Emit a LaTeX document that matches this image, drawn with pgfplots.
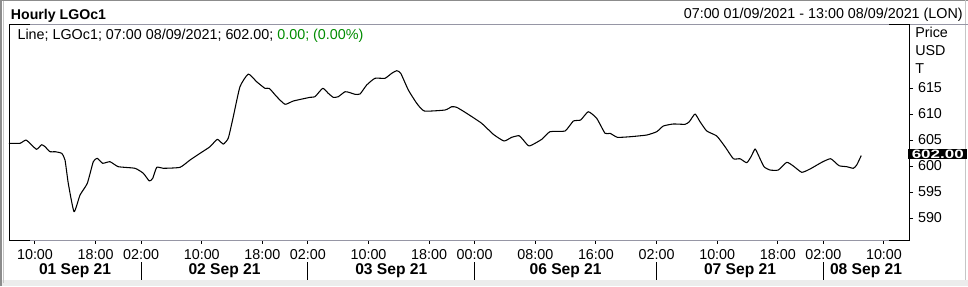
\documentclass[border=0pt]{standalone}
\usepackage{pgfplots}
\pgfplotsset{compat=1.18}
\usepackage{fontspec}
\setmainfont{Liberation Sans}
\definecolor{framegray}{RGB}{150,150,165}
\definecolor{bordergray}{RGB}{140,140,140}
\definecolor{bandgray}{RGB}{236,236,236}
\definecolor{chggreen}{RGB}{0,140,0}
\begin{document}
\fontsize{10.75}{12}\selectfont
\begin{tikzpicture}[x=0.75pt,y=0.75pt]
\useasboundingbox (0,0) rectangle (968,286);
% outer window decoration
\fill[bandgray] (0,0) rectangle (968,6.5);
\draw[bordergray, line width=1.2pt] (0.8,0) -- (0.8,286);
\draw[bordergray!50, line width=0.75pt] (3,3) -- (3,286);
\draw[bordergray, line width=0.9pt] (0,285.2) -- (968,285.2);
\draw[bordergray!50, line width=0.75pt] (965.5,6.5) -- (965.5,286);
\begin{axis}[
  at={(6.75pt,34.5pt)}, anchor=south west,
  width=675pt, height=161.25pt, scale only axis,
  xmin=-0.43, xmax=118.3, ymin=585.77, ymax=627.12,
  axis line style={draw=none},
  xtick={3,11,17,25,33,39,47,55,61,69,77,85,93,101,107,115},
  xticklabels={10:00,18:00,02:00,10:00,18:00,02:00,10:00,18:00,00:00,08:00,16:00,02:00,10:00,18:00,02:00,10:00},
  ytick={590,595,600,605,610,615},
  xtick pos=bottom, ytick pos=right, yticklabel pos=right,
  tick align=outside,
  major tick length=3pt,
  tick style={black, line width=0.75pt},
  ticklabel style={font=\fontsize{10.75}{12}\selectfont},
  /pgf/number format/assume math mode=true,
  clip=false,
]
\addplot[black, line width=0.8pt, line join=round, smooth, tension=0.3] coordinates {
(-0.43,604.37) (1.02,604.37) (1.81,605.00) (2.56,604.04) (3.22,603.21) (3.88,604.10) (4.32,603.71) (4.98,602.75) (5.64,602.75) (6.52,602.44) (6.96,601.15) (7.39,596.67) (8.15,591.21) (8.94,594.42) (9.90,596.67) (10.69,600.83) (11.22,601.48) (11.93,600.52) (12.89,600.83) (13.99,599.87) (16.19,599.56) (17.29,598.60) (18.08,597.12) (18.53,597.63) (19.06,599.75) (19.93,599.56) (22.13,599.75) (23.45,601.15) (24.77,602.44) (26.09,603.71) (27.05,605.13) (27.84,604.22) (28.50,605.37) (29.16,609.48) (30.04,615.25) (31.14,617.69) (32.24,616.21) (33.34,614.94) (33.91,614.94) (34.89,613.33) (35.98,611.87) (37.08,612.50) (39.28,613.21) (39.94,613.33) (40.96,614.94) (41.69,613.98) (42.35,613.21) (43.01,613.33) (43.90,614.29) (44.56,614.10) (45.22,613.79) (45.88,613.85) (46.76,615.58) (47.85,616.87) (49.17,616.87) (50.06,617.83) (50.72,618.33) (51.25,617.83) (52.25,614.62) (53.36,612.06) (54.36,610.58) (57.09,610.77) (57.97,611.40) (58.63,611.29) (59.95,610.13) (61.93,608.21) (63.46,606.10) (64.87,604.81) (65.89,605.52) (66.85,605.83) (67.42,605.00) (68.21,603.85) (69.85,605.13) (70.94,606.60) (72.92,606.73) (74.02,608.65) (74.99,608.85) (75.99,610.44) (77.10,609.17) (78.20,606.29) (78.86,606.29) (79.83,605.52) (81.50,605.63) (83.70,605.96) (85.02,606.60) (85.89,607.69) (87.21,608.08) (88.75,608.02) (89.32,608.52) (90.07,610.00) (90.73,608.52) (91.62,606.73) (92.94,605.77) (94.03,603.71) (95.13,601.40) (96.01,601.40) (96.89,600.63) (97.46,601.79) (97.99,603.27) (98.42,602.12) (99.17,599.87) (99.97,599.23) (101.06,599.23) (102.17,600.71) (103.04,600.00) (104.15,598.79) (105.24,599.42) (106.79,600.71) (107.97,601.40) (109.07,600.06) (110.08,599.87) (110.95,599.56) (111.40,600.19) (112.00,602.00)
};
\node[fill=black, text=white, anchor=west, inner sep=0pt, minimum height=7.9pt, minimum width=44.25pt, xshift=-0.75pt] at (axis cs:118.3,602.27) {\resizebox{39pt}{6.4pt}{\bfseries 602.00}};
\end{axis}
% plot frame
\draw[framegray, line width=0.75pt] (9,261) -- (968,261);
\draw[framegray, line width=0.75pt] (9,46) -- (909,46);
\draw[black, line width=0.75pt] (30,261) -- (9,261) -- (9,46) -- (30,46);
\draw[black, line width=0.75pt] (889,261) -- (909,261) -- (909,46) -- (889,46);
% day separators and labels
\foreach \xx in {141.1,307.9,474.6,656.6,823.3} \draw[black, line width=0.75pt] (\xx,24) -- (\xx,6);
\foreach \xx/\lab in {75/01 Sep 21,224.5/02 Sep 21,391.3/03 Sep 21,565.6/06 Sep 21,740/07 Sep 21,866/08 Sep 21}
  \node[anchor=base, inner sep=0pt, font=\bfseries\fontsize{11.7}{13}\selectfont] at (\xx,12) {\lab};
% headers
\node[anchor=base west, inner sep=0pt, font=\bfseries\fontsize{10.6}{12}\selectfont] at (10.7,266.5) {Hourly LGOc1};
\node[anchor=base east, inner sep=0pt] at (963,267) {07:00 01/09/2021 - 13:00 08/09/2021 (LON)};
\node[anchor=base west, inner sep=0pt] at (17.3,246) {Line; LGOc1; 07:00 08/09/2021; 602.00; \textcolor{chggreen}{0.00; (0.00\%)}};
\node[anchor=base west, inner sep=0pt] at (915,248.3) {Price};
\node[anchor=base west, inner sep=0pt] at (915,230) {USD};
\node[anchor=base west, inner sep=0pt] at (915,212.7) {T};
\end{tikzpicture}
\end{document}
